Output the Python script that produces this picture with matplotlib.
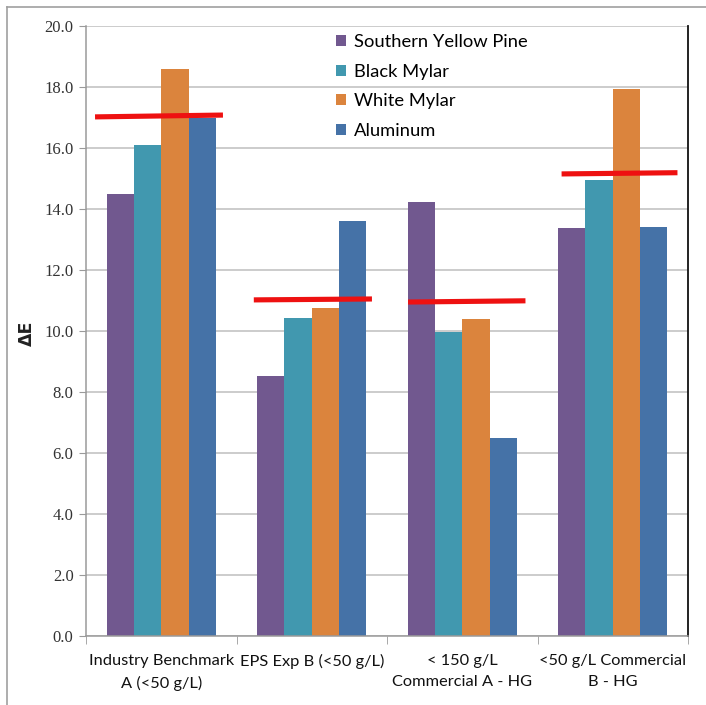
import matplotlib
matplotlib.use("Agg")
import matplotlib.pyplot as plt
from matplotlib.lines import Line2D
import numpy as np

categories = ["Industry Benchmark\nA (<50 g/L)", "EPS Exp B (<50 g/L)",
              "< 150 g/L\nCommercial A - HG", "<50 g/L Commercial\nB - HG"]
series_names = ["Southern Yellow Pine", "Black Mylar", "White Mylar", "Aluminum"]
southern_yellow_pine = [14.5, 8.53, 14.23, 13.38]
black_mylar = [16.1, 10.42, 9.98, 14.95]
white_mylar = [18.6, 10.77, 10.38, 17.93]
aluminum = [17.0, 13.62, 6.48, 13.42]
# hand-drawn red reference lines (left-end value, right-end value)
ref_left = [17.02, 11.02, 10.95, 15.15]
ref_right = [17.08, 11.05, 10.99, 15.19]
yticks = [0, 2, 4, 6, 8, 10, 12, 14, 16, 18, 20]

colors = ["#71588F", "#4198AF", "#DB843D", "#4572A7"]

fig = plt.figure(figsize=(7.06, 7.05), dpi=100)
W, H = 706, 705
ax = fig.add_axes([86 / W, 1 - 636 / H, (688 - 86) / W, (636 - 26) / H])

x = np.arange(len(categories))
bw = 0.1814
allseries = [southern_yellow_pine, black_mylar, white_mylar, aluminum]
for i, (vals, name, c) in enumerate(zip(allseries, series_names, colors)):
    ax.bar(x + (i - 1.5) * bw, vals, width=bw, color=c, label=name, zorder=2,
           linewidth=0)

# red lines
left_off = [-0.44, -0.385, -0.36, -0.34]
right_off = [0.41, 0.40, 0.42, 0.43]
for xi, yl, yr, lo, ro in zip(x, ref_left, ref_right, left_off, right_off):
    ax.plot([xi + lo, xi + ro], [yl, yr], color="#EE1111", lw=3.7,
            solid_capstyle="butt", zorder=3)

ax.set_xlim(-0.5, 3.5)
ax.set_ylim(0, 20)
ax.set_yticks(yticks)
ax.set_yticklabels([f"{v:.1f}" for v in yticks], family="Liberation Serif",
                   fontsize=12, color="#333333")
ax.yaxis.grid(True, color="#BEBEBE", lw=1.1, zorder=0)
ax.set_axisbelow(True)
ax.tick_params(axis="y", length=5, color="#9A9A9A", pad=4)

ax.set_xticks(x)
ax.set_xticklabels(categories, family="Lato", fontsize=11.8, color="#111111",
                   linespacing=1.65)
ax.set_xticks(np.arange(-0.5, 4.0, 1.0), minor=True)
ax.tick_params(axis="x", which="major", length=0, pad=13)
ax.tick_params(axis="x", which="minor", length=6, color="#9A9A9A")

for s in ["left", "bottom"]:
    ax.spines[s].set_color("#9A9A9A")
    ax.spines[s].set_linewidth(1.1)
ax.spines["top"].set_visible(False)
ax.spines["right"].set_color("#111111")
ax.spines["right"].set_linewidth(1.3)

fig.text(27 / W, 1 - 333 / H, "ΔE", rotation=90, ha="center", va="center",
         fontsize=12.5, fontweight="semibold", family="DejaVu Sans", color="#222222")

leg = ax.legend(loc="upper left", bbox_to_anchor=(336 / W, 1 - 34 / H),
                bbox_transform=fig.transFigure, frameon=False,
                prop={"family": "Lato", "size": 13.2}, handlelength=0.55,
                handleheight=0.55, handletextpad=0.45, labelspacing=0.74,
                borderpad=0, borderaxespad=0)

# outer border of the chart image
fig.add_artist(Line2D([7 / W, 1], [1 - 7 / H, 1 - 7 / H], color="#A0A0A0",
                      lw=1.2, transform=fig.transFigure))
fig.add_artist(Line2D([7 / W, 7 / W], [0, 1 - 7 / H], color="#A0A0A0",
                      lw=1.2, transform=fig.transFigure))

fig.savefig("out.png", dpi=100)
